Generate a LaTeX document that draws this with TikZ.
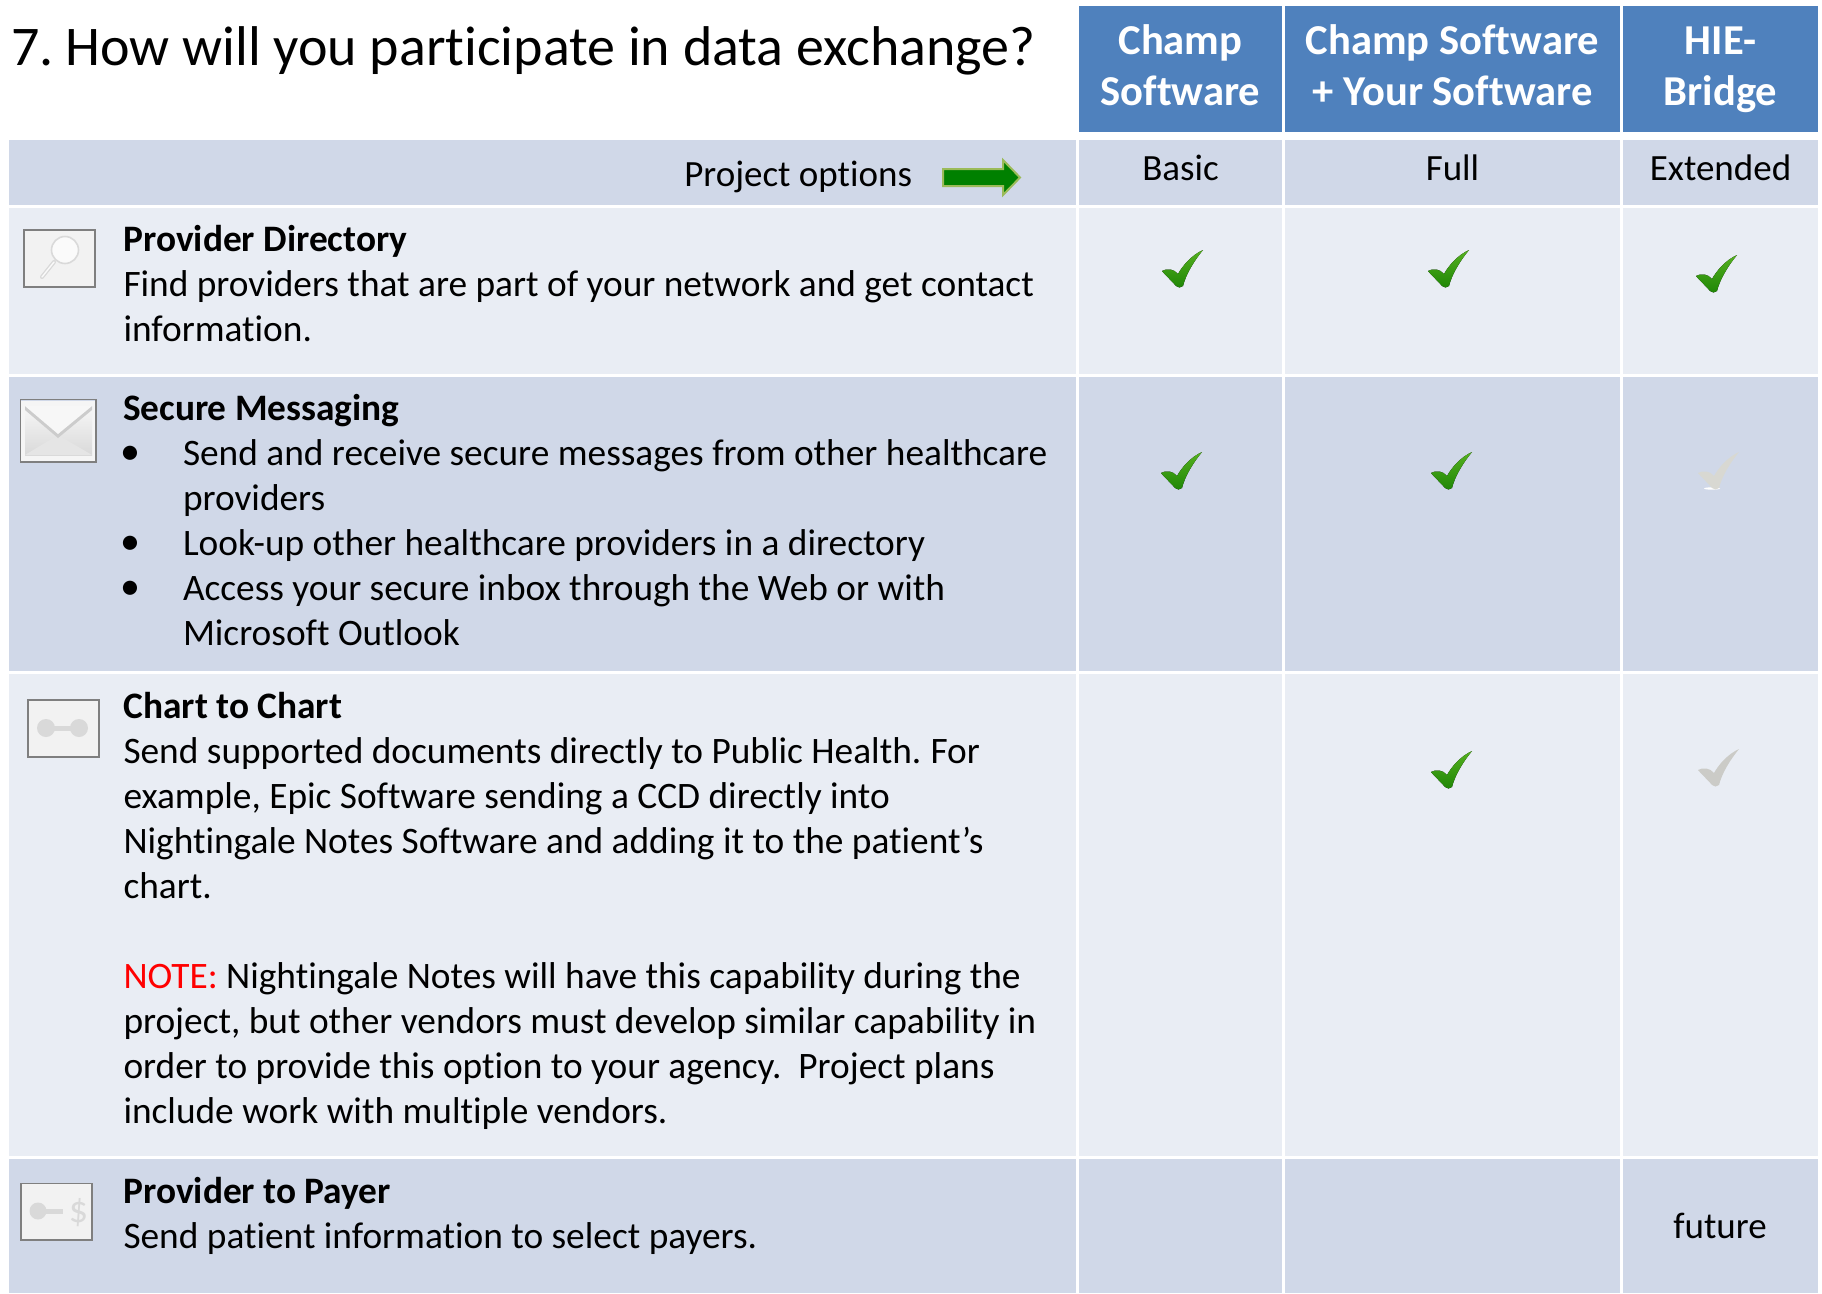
\documentclass[tikz,border=0pt]{standalone}
\usepackage{fontspec}
\setmainfont[Ligatures=NoCommon]{Carlito}
\usetikzlibrary{shadings}
\definecolor{hdr}{HTML}{4F81BD}
\definecolor{rowdark}{HTML}{D0D8E8}
\definecolor{rowlight}{HTML}{E9EDF4}
\definecolor{iconfill}{HTML}{F2F2F2}
\definecolor{iconedge}{HTML}{7F7F7F}
\definecolor{icongray}{HTML}{D9D9D9}
\definecolor{checkhi}{HTML}{55B020}
\definecolor{checklo}{HTML}{1F8606}
\definecolor{tickpale}{HTML}{D8D8D2}
\definecolor{tickmid}{HTML}{CBCBC7}
\definecolor{arrowedge}{HTML}{9BBB59}
\definecolor{arrowfill}{HTML}{008000}
\newcommand{\bul}{\makebox[60pt][l]{\hspace*{-3pt}\raisebox{1pt}{\fontsize{40}{45}\selectfont •}}}
\newcommand{\ind}{\hspace*{60pt}}
\tikzset{
  x=1pt,y=-1pt,
  body/.style={anchor=base west,inner sep=0pt,outer sep=0pt,align=left,font=\fontsize{37.35}{45}\selectfont,text=black},
  bodyc/.style={anchor=base,inner sep=0pt,outer sep=0pt,align=center,font=\fontsize{37}{45}\selectfont,text=black},
  head/.style={anchor=base,inner sep=0pt,outer sep=0pt,align=center,font=\fontsize{42.6}{51}\selectfont\bfseries,text=white},
  iconbox/.style={fill=iconfill,draw=iconedge,line width=1.6pt},
  checkgreen/.style={top color=checkhi,bottom color=checklo,draw=none},
  checkgray/.style={fill=#1,draw=none},
  pics/tick/.style={code={
    \fill[#1] (0,0) .. controls (5,-3) and (12,-2) .. (16,3)
      .. controls (21,-6) and (30,-16) .. (41,-21)
      .. controls (32,-10) and (24,3) .. (21,15)
      .. controls (19,17) and (16,17) .. (14,15)
      .. controls (9,9) and (4,5) .. (0,0) -- cycle;
  }}
}
\begin{document}
\begin{tikzpicture}
\useasboundingbox (0,0) rectangle (1822,1293);
\fill[white] (0,0) rectangle (1822,1293);
% header cells
\fill[hdr] (1079,6) rectangle (1282,132);
\fill[hdr] (1285,6) rectangle (1620,132);
\fill[hdr] (1623,6) rectangle (1818,132);
% row fills
\foreach \ya/\yb/\c in {140/205/rowdark,208/374/rowlight,377/671/rowdark,674/1156/rowlight,1159/1293/rowdark}{
  \fill[\c] (9,\ya) rectangle (1076,\yb);
  \fill[\c] (1079,\ya) rectangle (1282,\yb);
  \fill[\c] (1285,\ya) rectangle (1620,\yb);
  \fill[\c] (1623,\ya) rectangle (1818,\yb);
}
% title and headers
\node[anchor=base west,inner sep=0pt,font=\fontsize{56}{60}\selectfont] (title) at (11,65) {7.\kern-5pt{} How will you participate in data exchange?};
\node[head] (h1) at (1180.5,105) {Champ\\Software};
\node[head] (h2) at (1452.5,105) {Champ Software\\+ Your Software};
\node[head] (h3) at (1720.5,105) {HIE-\\Bridge};
% options row
\node[bodyc,anchor=base east] (opt) at (912,186) {Project options};
\node[bodyc] (basic) at (1180.5,180) {Basic};
\node[bodyc] (full) at (1452.5,180) {Full};
\node[bodyc] (ext) at (1720.5,180) {Extended};
\draw[draw=arrowedge,fill=arrowfill,line width=2pt,line join=miter] (943,169) -- (1003,169) -- (1003,160) -- (1020,177.5) -- (1003,195) -- (1003,186) -- (943,186) -- cycle;
% row text
\node[body] (r1) at (123.5,341) {\textbf{Provider Directory}\\Find providers that are part of your network and get contact\\information.};
\node[body] (r2) at (123,645.5) {\textbf{Secure Messaging}\\\bul Send and receive secure messages from other healthcare\\\ind providers\\\bul Look-up other healthcare providers in a directory\\\bul Access your secure inbox through the Web or with\\\ind Microsoft Outlook};
\node[body] (r3) at (123.5,1123) {\textbf{Chart to Chart}\\Send supported documents directly to Public Health.\kern-2pt{} For\\example, Epic Software sending a CCD directly into\\Nightingale Notes Software and adding it to the patient’s\\chart.\\[45pt]\textcolor{red}{NOTE:} Nightingale Notes will have this capability during the\\project, but other vendors must develop similar capability in\\order to provide this option to your agency.\ \ Project plans\\include work with multiple vendors.};
\node[body] (r4) at (123.5,1248.5) {\textbf{Provider to Payer}\\Send patient information to select payers.};
\node[bodyc] (fut) at (1720,1238) {future};
% icons
\draw[iconbox] (24,230) rectangle (95,287);
\draw[draw=icongray,line width=1.6pt,fill=white!60!iconfill] (65,250) circle (13.5);
\draw[draw=icongray,line width=4pt,line cap=round] (54,262) -- (42,277);
\draw[white!60!iconfill,line width=1.4pt,line cap=round] (54,262) -- (42,277);
\draw[iconedge,line width=1.6pt] (20.5,399.5) rectangle (96,462);
\fill[white!92!iconedge] (21,400.5) rectangle (95,461);
\shade[top color=white!97!black,bottom color=icongray] (25,406) rectangle (92,455);
\fill[white!90!black] (25,455) -- (58,435) -- (92,455) -- cycle;
\fill[white!80!black] (25,410) -- (58,438) -- (92,410) -- (92,406) -- (25,406) -- cycle;
\fill[white!97!black] (25,406) -- (58,434) -- (92,406) -- cycle;
\draw[iconbox] (28,700) rectangle (99,757);
\fill[icongray] (46,728) circle (9) (79,728) circle (9);
\draw[icongray,line width=5pt] (46,728) -- (79,728);
\draw[iconbox] (21,1183.5) rectangle (92,1240);
\fill[icongray] (38,1211) circle (8.5);
\draw[icongray,line width=5pt] (38,1211) -- (63,1211);
\node[anchor=center,inner sep=0pt,text=icongray,font=\fontsize{38}{38}\selectfont] (dollar) at (78.5,1213) {\$};
% ticks
\pic at (1162,271) {tick=checkgreen};
\pic at (1428,271) {tick=checkgreen};
\pic at (1696,276) {tick=checkgreen};
\pic at (1161,473) {tick=checkgreen};
\pic at (1431,473) {tick=checkgreen};
\fill[white] (1712,488.5) ellipse (8 and 1.2);
\pic at (1698,473) {tick={checkgray=tickpale}};
\pic at (1431,772) {tick=checkgreen};
\pic at (1698,770) {tick={checkgray=tickmid}};
\end{tikzpicture}
\end{document}
